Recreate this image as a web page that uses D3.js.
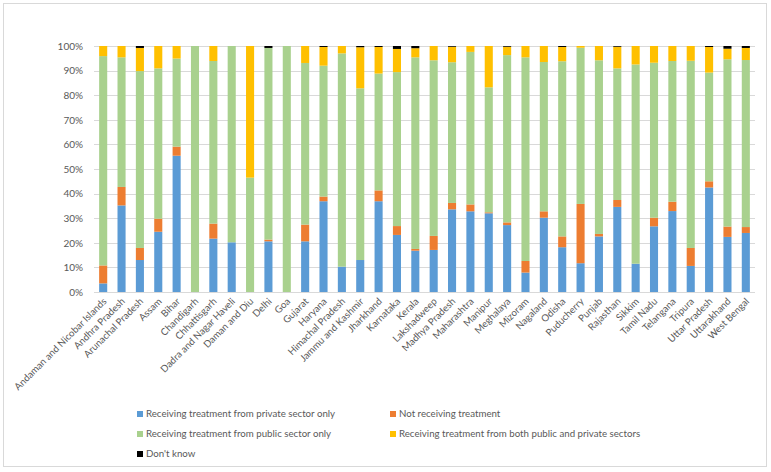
<!DOCTYPE html>
<html>
<head>
<meta charset="utf-8">
<script src="https://cdn.jsdelivr.net/npm/d3@7"></script>
<style>
  body { margin: 0; background: #fff; }
  text { font-family: Lato, "Open Sans", sans-serif; fill: #595959; }
</style>
</head>
<body>
<div id="chart"></div>
<script>
const states = [
  'Andaman and Nicobar Islands', 'Andhra Pradesh', 'Arunachal Pradesh', 'Assam', 'Bihar',
  'Chandigarh', 'Chhattisgarh', 'Dadra and Nagar Haveli', 'Daman and Diu', 'Delhi', 'Goa',
  'Gujarat', 'Haryana', 'Himachal Pradesh', 'Jammu and Kashmir', 'Jharkhand', 'Karnataka',
  'Kerala', 'Lakshadweep', 'Madhya Pradesh', 'Maharashtra', 'Manipur', 'Meghalaya', 'Mizoram',
  'Nagaland', 'Odisha', 'Puducherry', 'Punjab', 'Rajasthan', 'Sikkim', 'Tamil Nadu',
  'Telangana', 'Tripura', 'Uttar Pradesh', 'Uttarakhand', 'West Bengal',
];

const privateOnly = [3.5, 35.2, 13.0, 24.5, 55.4, 0, 21.7, 20.2, 0, 20.6, 0, 20.6, 36.9, 10.3,
  13.0, 36.9, 23.2, 16.8, 17.1, 33.6, 32.8, 32.0, 27.2, 7.9, 30.2, 18.2, 11.7, 22.6, 34.6, 11.5,
  26.7, 32.9, 10.6, 42.5, 22.4, 24.0];
const notReceiving = [7.3, 7.5, 4.9, 5.3, 3.7, 0, 6.1, 0, 0, 0.7, 0, 6.8, 1.9, 0, 0, 4.4, 3.6,
  0.7, 5.7, 2.6, 2.8, 0.4, 1.1, 4.7, 2.6, 4.4, 24.1, 1.0, 2.8, 0, 3.5, 3.8, 7.3, 2.5, 4.2, 2.4];
const publicOnly = [85.1, 52.7, 71.9, 61.1, 35.8, 100, 66.1, 79.8, 46.5, 77.9, 100, 65.7, 53.2,
  86.7, 69.8, 47.5, 62.6, 77.9, 71.4, 57.2, 62.0, 50.8, 68.0, 82.8, 60.7, 71.2, 63.5, 70.6, 53.5,
  81.0, 63.0, 57.2, 76.1, 44.2, 68.0, 67.9];
const both = [4.1, 4.6, 9.4, 9.1, 5.1, 0, 6.1, 0, 53.5, 0, 0, 6.9, 7.6, 3.0, 16.7, 10.8, 9.4,
  3.7, 5.8, 6.3, 2.4, 16.8, 3.4, 4.6, 6.5, 5.8, 0.7, 5.8, 8.8, 7.5, 6.8, 6.1, 6.0, 10.4, 4.3, 4.9];
const dontKnow = [0, 0, 0.8, 0, 0, 0, 0, 0, 0, 0.8, 0, 0, 0.4, 0, 0.5, 0.4, 1.2, 0.9, 0, 0.3,
  0, 0, 0.3, 0, 0, 0.4, 0, 0, 0.3, 0, 0, 0, 0, 0.4, 1.1, 0.8];

const yTicks = [0, 0.1, 0.2, 0.3, 0.4, 0.5, 0.6, 0.7, 0.8, 0.9, 1];

const series = [
  { key: 'private', label: 'Receiving treatment from private sector only', values: privateOnly, color: '#5B9BD5' },
  { key: 'not', label: 'Not receiving treatment', values: notReceiving, color: '#ED7D31' },
  { key: 'public', label: 'Receiving treatment from public sector only', values: publicOnly, color: '#A9D18E' },
  { key: 'both', label: 'Receiving treatment from both public and private sectors', values: both, color: '#FFC000' },
  { key: 'dk', label: "Don't know", values: dontKnow, color: '#000000' },
];

const width = 771;
const height = 472;
const margin = {
  top: 46, right: 16, bottom: 180, left: 94,
};

const rows = states.map((s, i) => {
  const row = { state: s };
  series.forEach((d) => { row[d.key] = d.values[i]; });
  return row;
});

// normalise each state to 100%
const stacked = d3.stack()
  .keys(series.map((d) => d.key))
  .offset(d3.stackOffsetExpand)(rows);

const svg = d3
  .select('#chart')
  .append('svg')
  .attr('width', width)
  .attr('height', height);

// chart frame
svg.append('rect')
  .attr('x', 3.5)
  .attr('y', 3.5)
  .attr('width', 763)
  .attr('height', 463)
  .attr('fill', 'none')
  .attr('stroke', '#D9D9D9');

const x = d3.scaleBand()
  .domain(states)
  .range([margin.left, width - margin.right])
  .paddingInner(0.56)
  .paddingOuter(0.28);

const y = d3.scaleLinear()
  .domain([0, 1])
  .range([height - margin.bottom, margin.top]);

// gridlines
svg.append('g')
  .selectAll('line')
  .data(yTicks)
  .enter()
  .append('line')
  .attr('x1', margin.left)
  .attr('x2', width - margin.right)
  .attr('y1', (d) => Math.round(y(d)) + 0.5)
  .attr('y2', (d) => Math.round(y(d)) + 0.5)
  .attr('stroke', '#D9D9D9');

// y axis labels
const yAxis = svg.append('g')
  .attr('transform', `translate(${margin.left - 8},0)`)
  .call(d3.axisLeft(y).tickValues(yTicks).tickFormat(d3.format('.0%')).tickSize(0));
yAxis.select('.domain').remove();
yAxis.selectAll('text')
  .attr('font-size', '10px')
  .attr('fill', '#595959')
  .style('font-family', 'Lato, sans-serif');

// bars
svg.append('g')
  .selectAll('g')
  .data(stacked)
  .enter()
  .append('g')
  .attr('fill', (d, i) => series[i].color)
  .selectAll('rect')
  .data((d) => d)
  .enter()
  .append('rect')
  .attr('x', (d) => x(d.data.state))
  .attr('y', (d) => y(d[1]))
  .attr('width', x.bandwidth())
  .attr('height', (d) => y(d[0]) - y(d[1]));

// x labels
svg.append('g')
  .selectAll('text')
  .data(states)
  .enter()
  .append('text')
  .attr('text-anchor', 'end')
  .attr('font-size', '9.7px')
  .attr('transform', (d) => `translate(${x(d) + x.bandwidth() / 2 + 4},${height - margin.bottom + 10}) rotate(-45)`)
  .text((d) => d);

// legend
const legendPos = [
  [137, 414], [390, 414], [137, 434], [390, 434], [137, 454],
];
const legend = svg.append('g')
  .selectAll('g')
  .data(series)
  .enter()
  .append('g')
  .attr('transform', (d, i) => `translate(${legendPos[i][0]},${legendPos[i][1]})`);

legend.append('rect')
  .attr('x', 0)
  .attr('y', -3)
  .attr('width', 6)
  .attr('height', 6)
  .attr('fill', (d) => d.color);

legend.append('text')
  .attr('x', 9)
  .attr('dy', '0.35em')
  .attr('font-size', '9.7px')
  .text((d) => d.label);
</script>
</body>
</html>
